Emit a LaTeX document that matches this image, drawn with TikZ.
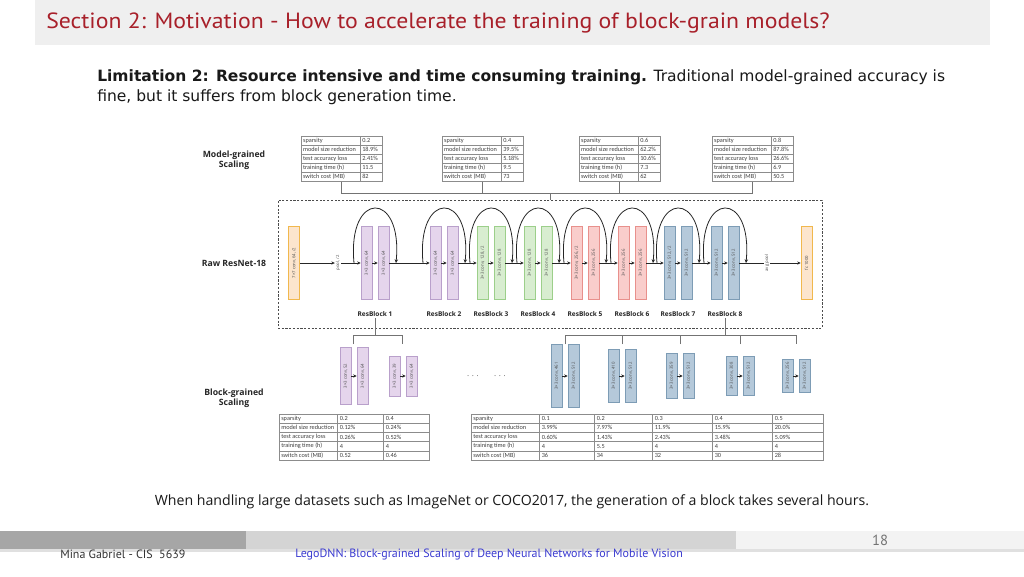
\documentclass[tikz,border=0pt]{standalone}
\usepackage{graphicx}
\usepackage{fontspec}
\setmainfont{Open Sans}
\newfontfamily\titlefont{PT Sans}
\newfontfamily\tabfont{Carlito}
\newfontfamily\footfont{PT Sans}
\newfontfamily\limfont{DejaVu Sans}
\usetikzlibrary{arrows.meta,calc}
\definecolor{titlered}{HTML}{A8202A}
\definecolor{barbg}{HTML}{EFEFEF}
\definecolor{orfill}{HTML}{FCE5CD}\definecolor{ordraw}{HTML}{F1B84D}
\definecolor{pufill}{HTML}{E5D5EC}\definecolor{pudraw}{HTML}{B9A0CB}
\definecolor{grfill}{HTML}{D8EDD0}\definecolor{grdraw}{HTML}{9CCF8A}
\definecolor{rdfill}{HTML}{F9CDCB}\definecolor{rddraw}{HTML}{E8908C}
\definecolor{blfill}{HTML}{B5C9DA}\definecolor{bldraw}{HTML}{7D9CB5}
\definecolor{footdark}{HTML}{A6A6A6}\definecolor{footmid}{HTML}{D4D4D4}\definecolor{footlight}{HTML}{F3F3F3}
\definecolor{linkblue}{HTML}{3A3AD0}
\tikzset{
  blk/.style={draw, line width=0.5pt, minimum width=8.25pt, minimum height=54.75pt, inner sep=0pt,
    font=\fontsize{3.2}{4}\selectfont, text=black!70},
  orb/.style={fill=orfill, draw=ordraw},
  pub/.style={fill=pufill, draw=pudraw},
  grb/.style={fill=grfill, draw=grdraw},
  rdb/.style={fill=rdfill, draw=rddraw},
  blb/.style={fill=blfill, draw=bldraw},
  arr/.style={-{Stealth[length=2.6pt,width=2.4pt]}, line width=0.5pt, black!85},
  plainline/.style={line width=0.5pt, black!85},
  skip/.style={-{Stealth[length=2.8pt,width=2.6pt]}, line width=0.6pt, black!85},
  conn/.style={draw=black!55, line width=0.45pt},
  dbox/.style={draw=black!70, line width=0.6pt, dash pattern=on 1.6pt off 1.2pt},
  tabframe/.style={draw=black!45, line width=0.4pt, inner sep=0pt},
  tabline/.style={draw=black!45, line width=0.4pt},
  cell/.style={anchor=west, inner sep=0pt, font=\tabfont\fontsize{4.7}{5.5}\selectfont, text=black!75},
  sidelabel/.style={align=center, font=\bfseries\fontsize{6.5}{7.7}\selectfont, text=black!85, inner sep=1pt},
  rblabel/.style={font=\bfseries\fontsize{4.9}{5.6}\selectfont, text=black!85, inner sep=1pt},
  tinytxt/.style={font=\fontsize{3.2}{4}\selectfont, text=black!70, inner sep=0.6pt},
}
\newcommand\resblock[6]{%
  \node[blk,#3] (b#1a) at (#2+5.5,263) {\rotatebox{90}{#4}};
  \node[blk,#3] (b#1b) at (#2+22.5,263) {\rotatebox{90}{#5}};
  \coordinate (s#1) at (#2-7,263);
  \coordinate (e#1) at (#2+35,263);
  \draw[arr] (b#1a) -- (b#1b);
  \draw[skip] (s#1) .. controls ($(s#1)+(-7,-73)$) and ($(e#1)+(7,-73)$) .. (e#1);
  \node[rblabel] (rl#1) at (#2+14,314) {ResBlock #6};
}
\newcommand\bgpair[6]{%
  \node[blk,blb,minimum height=#3] (g#1a) at (#2+5.5,376) {\rotatebox{90}{#4}};
  \node[blk,blb,minimum height=#3] (g#1b) at (#2+22.5,376) {\rotatebox{90}{#5}};
  \draw[arr] (g#1a) -- (g#1b);
}
\newcommand\lgpair[6]{%
  \node[blk,pub,minimum height=#3] (g#1a) at (#2+5.5,376) {\rotatebox{90}{#4}};
  \node[blk,pub,minimum height=#3] (g#1b) at (#2+22.5,376) {\rotatebox{90}{#5}};
  \draw[arr] (g#1a) -- (g#1b);
}
\newcommand\mgtab[7]{%
  \node[tabframe, minimum width=60.75pt, minimum height=33.75pt, anchor=north west] (#1) at (#2,136) {};
  \foreach \k in {1,...,4} \draw[tabline] (#2,136+9*\k) -- (#2+81,136+9*\k);
  \draw[tabline] (#2+59,136) -- (#2+59,181);
  \foreach \k/\t in {0/sparsity,1/model size reduction,2/test accuracy loss,3/training time (h),4/switch cost (MB)}
    \node[cell] at (#2+1.8,140.5+9*\k) {\t};
  \node[cell] at (#2+61,140.5) {#3};
  \node[cell] at (#2+61,149.5) {#4};
  \node[cell] at (#2+61,158.5) {#5};
  \node[cell] at (#2+61,167.5) {#6};
  \node[cell] at (#2+61,176.5) {#7};
}
\begin{document}
\begin{tikzpicture}[x=0.75pt,y=-0.75pt]
\useasboundingbox (0,0) rectangle (1024,576);
\fill[white] (0,0) rectangle (1024,576);
% title bar
\fill[barbg] (35,0) rectangle (990,45);
\node[anchor=west, font=\titlefont\fontsize{16.5}{19}\selectfont, text=titlered, inner sep=0pt] (title) at (46,23)
  {\scalebox{1.08}[1]{Section 2: Motivation - How to accelerate the training of block-grain models?}};
\node[anchor=north west, align=left, font=\limfont\fontsize{11.65}{15}\selectfont, text=black!90, inner sep=0pt] (lim) at (97,69.5)
  {\textbf{Limitation 2: Resource intensive and time consuming training.} Traditional model-grained accuracy is\\fine, but it suffers from block generation time.};

% side labels
\node[sidelabel] (mgl) at (234,160) {Model-grained\\Scaling};
\node[sidelabel] (rawl) at (234,263) {Raw ResNet-18};
\node[sidelabel] (bgl) at (234,398) {Block-grained\\Scaling};

% model-grained tables
\mgtab{t1}{301}{0.2}{18.9\%}{2.41\%}{11.5}{82}
\mgtab{t2}{442}{0.4}{39.5\%}{5.18\%}{9.5}{73}
\mgtab{t3}{579}{0.6}{62.2\%}{10.6\%}{7.3}{62}
\mgtab{t4}{712}{0.8}{87.8\%}{26.6\%}{6.9}{50.5}

% dashed box
\node[dbox, minimum width=408pt, minimum height=96pt, inner sep=0pt] (raw) at (550,264) {};
\coordinate (fork) at (550,193);
\draw[conn] (t1.south) -- (t1.south |- fork) -- (t4.south |- fork) -- (t4.south);
\draw[conn] (t2.south) -- (t2.south |- fork);
\draw[conn] (t3.south) -- (t3.south |- fork);
\draw[conn] (fork) -- (raw.north);

% raw resnet
\node[blk,orb] (conv1) at (294,263) {\rotatebox{90}{7×7 conv, 64, /2}};
\node[tinytxt] (pool) at (338,263) {\rotatebox{90}{pool, /2}};
\resblock{1}{361}{pub}{3×3 conv, 64}{3×3 conv, 64}{1}
\resblock{2}{430}{pub}{3×3 conv, 64}{3×3 conv, 64}{2}
\resblock{3}{477}{grb}{3×3 conv, 128, /2}{3×3 conv, 128}{3}
\resblock{4}{524}{grb}{3×3 conv, 128}{3×3 conv, 128}{4}
\resblock{5}{571}{rdb}{3×3 conv, 256, /2}{3×3 conv, 256}{5}
\resblock{6}{618}{rdb}{3×3 conv, 256}{3×3 conv, 256}{6}
\resblock{7}{664}{blb}{3×3 conv, 512, /2}{3×3 conv, 512}{7}
\resblock{8}{711}{blb}{3×3 conv, 512}{3×3 conv, 512}{8}
\node[tinytxt] (avgpool) at (767,263) {\rotatebox{90}{avg pool}};
\node[blk,orb] (fc) at (806.5,263) {\rotatebox{90}{fc 1000}};
\draw[arr] (conv1) -- (pool);
\draw[arr] (pool) -- (b1a);
\draw[arr] (b1b) -- (b2a);
\draw[arr] (b2b) -- (b3a);
\draw[arr] (b3b) -- (b4a);
\draw[arr] (b4b) -- (b5a);
\draw[arr] (b5b) -- (b6a);
\draw[arr] (b6b) -- (b7a);
\draw[arr] (b7b) -- (b8a);
\draw[plainline] (b8b) -- (avgpool);
\draw[arr] (avgpool) -- (fc);

% block-grained blocks
\lgpair{L1}{340}{42.75pt}{3×3 conv, 52}{3×3 conv, 64}{}
\lgpair{L2}{389}{30pt}{3×3 conv, 39}{3×3 conv, 64}{}
\node[font=\fontsize{6}{7}\selectfont, text=black!60, inner sep=0pt] (dots1) at (473,376) {.\,\,.\,\,.};
\node[font=\fontsize{6}{7}\selectfont, text=black!60, inner sep=0pt] (dots2) at (500,376) {.\,\,.\,\,.};
\bgpair{A}{551}{47.25pt}{3×3 conv, 461}{3×3 conv, 512}{}
\bgpair{B}{608}{39.75pt}{3×3 conv, 410}{3×3 conv, 512}{}
\bgpair{C}{666}{33.75pt}{3×3 conv, 359}{3×3 conv, 512}{}
\bgpair{D}{726}{29.25pt}{3×3 conv, 308}{3×3 conv, 512}{}
\bgpair{E}{782}{24.75pt}{3×3 conv, 256}{3×3 conv, 512}{}

% forks from ResBlock labels
\coordinate (lf) at (375,335);
\coordinate (gL1) at (353,344);
\coordinate (gL2) at (402,344);
\draw[conn] (rl1.south) -- (lf);
\draw[conn] (gL1) -- (gL1 |- lf) -- (gL2 |- lf) -- (gL2);
\coordinate (rf) at (725,335);
\coordinate (gA) at (565,344);
\coordinate (gB) at (622,344);
\coordinate (gC) at (680,344);
\coordinate (gD) at (740,344);
\coordinate (gE) at (796,344);
\draw[conn] (rl8.south) -- (rf);
\draw[conn] (gA) -- (gA |- rf) -- (gE |- rf) -- (gE);
\draw[conn] (gB) -- (gB |- rf);
\draw[conn] (gC) -- (gC |- rf);
\draw[conn] (gD) -- (gD |- rf);

% block-grained left table
\node[tabframe, minimum width=112.5pt, minimum height=34.5pt, anchor=north west] (lt) at (279,414) {};
\foreach \k in {1,...,4} \draw[tabline] (279,414+9.2*\k) -- (429,414+9.2*\k);
\draw[tabline] (337,414) -- (337,460);
\draw[tabline] (383,414) -- (383,460);
\foreach \k/\t/\a/\b in {0/sparsity/0.2/0.4,1/model size reduction/0.12\%/0.24\%,2/test accuracy loss/0.26\%/0.52\%,3/training time (h)/4/4,4/switch cost (MB)/0.52/0.46}{
  \node[cell] at (281,418.6+9.2*\k) {\t};
  \node[cell] at (339.5,418.6+9.2*\k) {\a};
  \node[cell] at (385.5,418.6+9.2*\k) {\b};
}
% block-grained right table
\node[tabframe, minimum width=264pt, minimum height=34.5pt, anchor=north west] (rt) at (471,414) {};
\foreach \k in {1,...,4} \draw[tabline] (471,414+9.2*\k) -- (823,414+9.2*\k);
\foreach \c in {539,594,652,712,772} \draw[tabline] (\c,414) -- (\c,460);
\foreach \k/\t/\a/\b/\c/\d/\e in {0/sparsity/0.1/0.2/0.3/0.4/0.5,1/model size reduction/3.99\%/7.97\%/11.9\%/15.9\%/20.0\%,2/test accuracy loss/0.60\%/1.43\%/2.43\%/3.48\%/5.09\%,3/training time (h)/4/5.5/4/4/4,4/switch cost (MB)/36/34/32/30/28}{
  \node[cell] at (473,418.6+9.2*\k) {\t};
  \node[cell] at (541.5,418.6+9.2*\k) {\a};
  \node[cell] at (596.5,418.6+9.2*\k) {\b};
  \node[cell] at (654.5,418.6+9.2*\k) {\c};
  \node[cell] at (714.5,418.6+9.2*\k) {\d};
  \node[cell] at (774.5,418.6+9.2*\k) {\e};
}

% bottom sentence
\node[font=\fontsize{10.6}{12}\selectfont, text=black!90, inner sep=0pt] (note) at (512,502)
  {When handling large datasets such as ImageNet or COCO2017, the generation of a block takes several hours.};

% footer
\fill[black!12] (0,549) rectangle (1024,551.5);
\fill[footdark] (0,531) rectangle (246,549);
\fill[footmid] (246,531) rectangle (736,549);
\fill[footlight] (736,531) rectangle (1024,549);
\node[font=\titlefont\fontsize{11}{13}\selectfont, text=black!55, inner sep=0pt] (pgnum) at (880,540) {18};
\node[anchor=west, font=\footfont\fontsize{9}{10}\selectfont, text=black!80, inner sep=0pt] (author) at (60,554) {Mina Gabriel - CIS\ \ 5639};
\node[anchor=west, font=\footfont\fontsize{9}{10}\selectfont, text=linkblue, inner sep=0pt] (ref) at (295,554) {LegoDNN: Block-grained Scaling of Deep Neural Networks for Mobile Vision};
\end{tikzpicture}
\end{document}
